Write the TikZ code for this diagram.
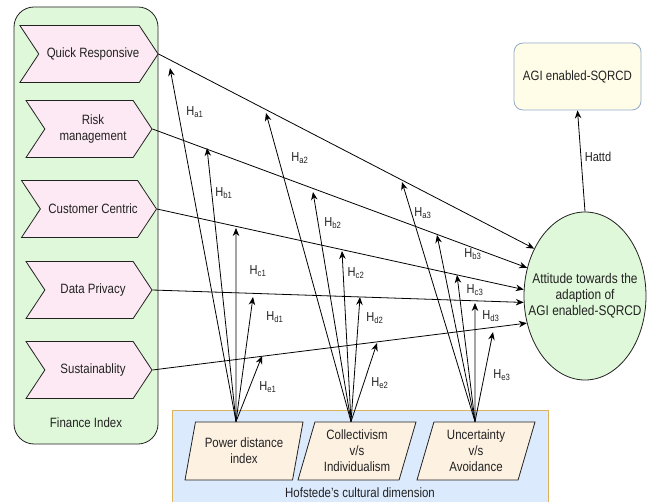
\documentclass[tikz,border=0pt]{standalone}
\usepackage{fontspec}
\setmainfont[FakeStretch=0.85]{Liberation Sans}
\usetikzlibrary{shapes.symbols,shapes.geometric,arrows.meta}

\definecolor{grpgreen}{RGB}{224,248,218}
\definecolor{chevfill}{RGB}{252,233,243}
\definecolor{hofblue}{RGB}{219,234,252}
\definecolor{hofedge}{RGB}{222,178,90}
\definecolor{parfill}{RGB}{253,241,226}
\definecolor{agifill}{RGB}{255,253,231}
\definecolor{agiedge}{RGB}{146,170,204}
\definecolor{ink}{RGB}{34,34,34}

\tikzset{
  basefont/.style={font=\fontsize{13.5}{16}\selectfont, text=ink},
  chev/.style={shape=signal, signal to=east, signal from=west,
    signal pointer angle=113, minimum width=126pt, minimum height=57pt,
    inner sep=0pt, draw=ink, fill=chevfill, line width=0.8pt,
    align=center, basefont},
  par/.style={shape=trapezium, trapezium left angle=68, trapezium right angle=112,
    trapezium stretches body, minimum width=118pt, minimum height=58pt,
    inner sep=0pt, draw=ink, fill=parfill, line width=0.8pt,
    align=center, basefont},
  arr/.style={draw=black, line width=0.8pt, -{Stealth[length=8pt,width=6.5pt]}},
  hl/.style={font=\fontsize{13}{15}\selectfont, text=ink, inner sep=0pt},
}

\begin{document}
\begin{tikzpicture}[x=1pt,y=-1pt]
\useasboundingbox (0,0) rectangle (647,502);

% group frames
\node[draw=ink, fill=grpgreen, line width=0.8pt, rounded corners=20pt,
      minimum width=144pt, minimum height=437pt, inner sep=0pt] (fin) at (86,225.5) {};
\node[draw=hofedge, fill=hofblue, line width=0.8pt,
      minimum width=376pt, minimum height=100pt, inner sep=0pt] (hof) at (360.5,460) {};
\node[basefont] (finlbl) at (86,423) {Finance Index};
\node[basefont] (hoflbl) at (360,493) {Hofstede's cultural dimension};

% finance index items
\node[chev] (qr) at (89,54) {\hspace*{8pt}Quick Responsive};
\node[chev] (rm) at (89,129) {\hspace*{8pt}Risk\\\hspace*{8pt}management};
\node[chev] (cc) at (89,209) {\hspace*{8pt}Customer Centric};
\node[chev] (dp) at (89,290) {\hspace*{8pt}Data Privacy};
\node[chev] (su) at (89,370) {\hspace*{8pt}Sustainablity};

% cultural dimensions
\node[par] (pdi) at (244,451) {Power distance\\index};
\node[par] (civ) at (357,451) {Collectivism\\v/s\\Individualism};
\node[par] (uva) at (476,451) {Uncertainty\\v/s\\Avoidance};

% outcome
\node[draw=ink, fill=grpgreen, line width=0.8pt, shape=ellipse,
      minimum width=122pt, minimum height=168pt, inner sep=0pt] (att) at (585,296) {};
\node[align=center, font=\fontsize{14}{16}\selectfont, text=ink, inner sep=0pt]
      (attlbl) at (att.center) {Attitude towards the\\adaption of\\AGI enabled-SQRCD};
\node[draw=agiedge, fill=agifill, line width=0.8pt, rounded corners=9pt,
      minimum width=127pt, minimum height=67pt, inner sep=0pt, basefont] (agi) at (577.5,76.5)
      {AGI enabled-SQRCD};

% finance index -> attitude
\draw[arr] (qr.east) -- (att.137);
\draw[arr] (rm.east) -- (att.154);
\draw[arr] (cc.east) -- (att.174);
\draw[arr] (dp.east) -- (att.186);
\draw[arr] (su.east) -- (att.205);
\draw[arr] (att.north) -- (agi.south);
\node[hl] (lattd) at (598,157) {Hattd};

% moderating paths: tips on the finance-index links
\coordinate (ta1) at (170,68);
\coordinate (tb1) at (207,148);
\coordinate (tc1) at (236,228);
\coordinate (td1) at (253,297);
\coordinate (te1) at (262,356);
\coordinate (ta2) at (266,113);
\coordinate (tb2) at (313,192);
\coordinate (tc2) at (342,251);
\coordinate (td2) at (360,297);
\coordinate (te2) at (377,343);
\coordinate (ta3) at (402,182);
\coordinate (tb3) at (437,235);
\coordinate (tc3) at (457,275);
\coordinate (td3) at (475,303);
\coordinate (te3) at (493,332);

\foreach \t in {a1,b1,c1,d1,e1} \draw[arr] ([xshift=-8pt]pdi.north) -- (t\t);
\foreach \t in {a2,b2,c2,d2,e2} \draw[arr] ([xshift=-6pt]civ.north) -- (t\t);
\foreach \t in {a3,b3,c3,d3,e3} \draw[arr] ([xshift=-1pt]uva.north) -- (t\t);

\node[hl] (la1) at (195,112) {H\textsubscript{a1}};
\node[hl] (lb1) at (224,193) {H\textsubscript{b1}};
\node[hl] (lc1) at (258,271) {H\textsubscript{c1}};
\node[hl] (ld1) at (275,317) {H\textsubscript{d1}};
\node[hl] (le1) at (268,387) {H\textsubscript{e1}};
\node[hl] (la2) at (300,158) {H\textsubscript{a2}};
\node[hl] (lb2) at (333,223) {H\textsubscript{b2}};
\node[hl] (lc2) at (356,273) {H\textsubscript{c2}};
\node[hl] (ld2) at (375,318) {H\textsubscript{d2}};
\node[hl] (le2) at (380,383) {H\textsubscript{e2}};
\node[hl] (la3) at (423,213) {H\textsubscript{a3}};
\node[hl] (lb3) at (473,254) {H\textsubscript{b3}};
\node[hl] (lc3) at (475,290) {H\textsubscript{c3}};
\node[hl] (ld3) at (491,316) {H\textsubscript{d3}};
\node[hl] (le3) at (502,375) {H\textsubscript{e3}};
\end{tikzpicture}
\end{document}
